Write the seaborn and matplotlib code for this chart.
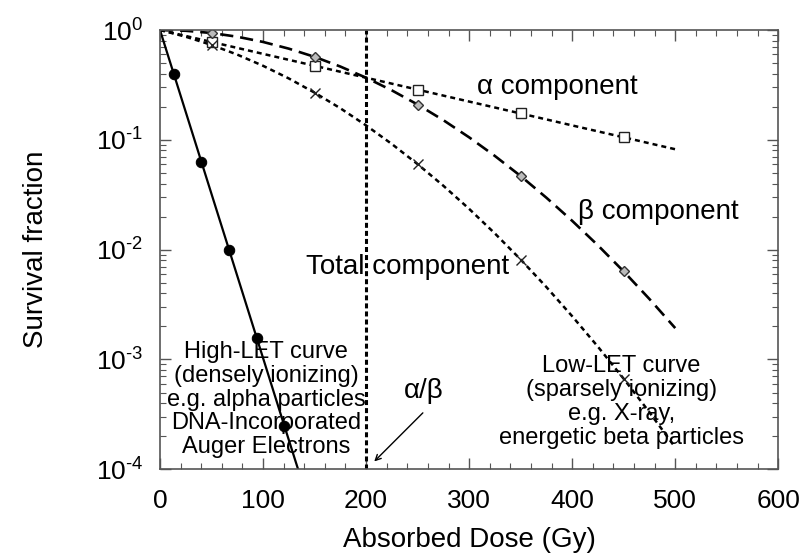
import matplotlib
matplotlib.use("Agg")
import matplotlib.pyplot as plt
import matplotlib.ticker as mticker
import seaborn as sns
import pandas as pd

# ---- data ----
dose = [0, 25, 50, 75, 100, 125, 150, 175, 200, 225, 250, 275, 300,
        325, 350, 375, 400, 425, 450, 475, 500]
alpha_sf = [1.0, 0.8825, 0.7788, 0.6873, 0.6065, 0.5353, 0.4724, 0.4169,
            0.3679, 0.3247, 0.2865, 0.2528, 0.2231, 0.1969, 0.1738, 0.1534,
            0.1353, 0.1194, 0.1054, 0.0930, 0.0821]
beta_sf = [1.0, 0.9845, 0.9394, 0.8688, 0.7788, 0.6766, 0.5698, 0.4650,
           0.3679, 0.2821, 0.2096, 0.1510, 0.1054, 0.0713, 0.0468, 0.0297,
           0.0183, 0.01094, 0.00633, 0.00355, 0.00193]
total_sf = [1.0, 0.8688, 0.7316, 0.5971, 0.4724, 0.3622, 0.2692, 0.1939,
            0.1353, 0.0916, 0.06005, 0.03817, 0.02352, 0.01404, 0.00813,
            0.00456, 0.002476, 0.001306, 0.000667, 0.00033, 0.000158]
marker_dose = [50, 150, 250, 350, 450]
alpha_marker = [0.7788, 0.4724, 0.2865, 0.1738, 0.1054]
beta_marker = [0.9394, 0.5698, 0.2096, 0.0468, 0.00633]
total_marker = [0.7316, 0.2692, 0.06005, 0.00813, 0.000667]
high_dose = [0, 13.4, 40.2, 67.0, 93.8, 120.6, 134.0]
high_sf = [1.0, 0.398, 0.063, 0.010, 0.00158, 0.00025, 0.0001]
high_marker_dose = [13.4, 40.2, 67.0, 93.8, 120.6]
high_marker_sf = [0.398, 0.063, 0.010, 0.00158, 0.00025]
alpha_beta_dose = 200
x_ticks = [0, 100, 200, 300, 400, 500, 600]
y_ticks = [1e-4, 1e-3, 1e-2, 1e-1, 1]
y_tick_labels = [r"$\mathdefault{10^{\text{-4}}}$", r"$\mathdefault{10^{\text{-3}}}$",
                 r"$\mathdefault{10^{\text{-2}}}$", r"$\mathdefault{10^{\text{-1}}}$",
                 r"$\mathdefault{10^{0}}$"]

sns.set_style("ticks")
plt.rcParams['font.family'] = ['Liberation Sans', 'DejaVu Sans']
plt.rcParams['mathtext.fontset'] = 'custom'
plt.rcParams['mathtext.rm'] = 'Liberation Sans'
plt.rcParams['mathtext.it'] = 'Liberation Sans'
plt.rcParams['mathtext.bf'] = 'Liberation Sans:bold'
plt.rcParams['axes.unicode_minus'] = False
plt.rcParams['lines.scale_dashes'] = False
plt.rcParams['text.color'] = 'black'
plt.rcParams['axes.labelcolor'] = 'black'

fig = plt.figure(figsize=(8.04, 5.56), dpi=100)
ax = fig.add_axes([0.199, 0.156, 0.769, 0.790])

df = pd.DataFrame({"dose": dose, "alpha": alpha_sf, "beta": beta_sf, "total": total_sf})

sns.lineplot(data=df, x="dose", y="alpha", ax=ax, color="black", lw=1.8,
             linestyle=(0, (3.6, 2.9)), legend=False)
sns.lineplot(data=df, x="dose", y="beta", ax=ax, color="black", lw=1.9,
             linestyle=(0, (9.5, 5.0)), legend=False)
sns.lineplot(data=df, x="dose", y="total", ax=ax, color="black", lw=1.8,
             linestyle=(0, (3.6, 2.9)), legend=False)
sns.lineplot(x=high_dose, y=high_sf, ax=ax, color="black", lw=1.6, legend=False)

sns.lineplot(x=marker_dose, y=alpha_marker, ax=ax, marker="s", linestyle="",
             markersize=7, markerfacecolor="white", markeredgecolor="#222222",
             markeredgewidth=1.0, legend=False)
sns.lineplot(x=marker_dose, y=beta_marker, ax=ax, marker="D", linestyle="",
             markersize=5.5, markerfacecolor="#bbbbbb", markeredgecolor="#333333",
             markeredgewidth=1.0, legend=False)
sns.lineplot(x=marker_dose, y=total_marker, ax=ax, marker="x", linestyle="",
             markersize=7, markeredgecolor="#222222", markeredgewidth=1.0,
             legend=False)
sns.lineplot(x=high_marker_dose, y=high_marker_sf, ax=ax, marker="o", linestyle="",
             markersize=7.5, markerfacecolor="black", markeredgecolor="black",
             legend=False)

ax.axvline(alpha_beta_dose, color="black", lw=2.2, linestyle=(0, (3.6, 2.2)))

ax.set_yscale("log")
ax.set_xlim(0, 600)
ax.set_ylim(1e-4, 1)
ax.set_xticks(x_ticks)
ax.xaxis.set_minor_locator(mticker.MultipleLocator(20))
ax.set_yticks(y_ticks)
ax.set_yticklabels(y_tick_labels)
ax.yaxis.set_minor_locator(mticker.LogLocator(base=10, subs=range(2, 10), numticks=50))
ax.yaxis.set_minor_formatter(mticker.NullFormatter())

ax.tick_params(which="both", direction="in", top=True, right=True,
               color="#555555", labelcolor="black", labelsize=19)
ax.tick_params(which="major", length=8, width=1.0)
ax.tick_params(axis="x", which="major", pad=14)
ax.tick_params(axis="y", which="major", pad=12)
ax.tick_params(which="minor", length=4, width=0.8)
for s in ax.spines.values():
    s.set_color("#555555")
    s.set_linewidth(1.2)

ax.set_xlabel("Absorbed Dose (Gy)", fontsize=20, labelpad=10)
ax.set_ylabel("Survival fraction", fontsize=20, labelpad=34)

ax.text(386, 0.30, "α component", fontsize=20, ha="center", va="center")
ax.text(484, 0.0218, "β component", fontsize=20, ha="center", va="center")
ax.text(240, 0.0070, "Total component", fontsize=20, ha="center", va="center")
ax.text(103, 4.3e-4, "High-LET curve\n(densely ionizing)\ne.g. alpha particles\nDNA-Incorporated\nAuger Electrons",
        fontsize=17, ha="center", va="center", linespacing=1.1)
ax.text(448, 4.1e-4, "Low-LET curve\n(sparsely ionizing)\ne.g. X-ray,\nenergetic beta particles",
        fontsize=17, ha="center", va="center", linespacing=1.1)
ax.text(256, 5.2e-4, "α/β", fontsize=20, ha="center", va="center")
ax.annotate("", xy=(206, 1.13e-4), xytext=(257, 3.4e-4),
            arrowprops=dict(arrowstyle="->", color="black", lw=1.0))

fig.savefig("out.png", dpi=100)
